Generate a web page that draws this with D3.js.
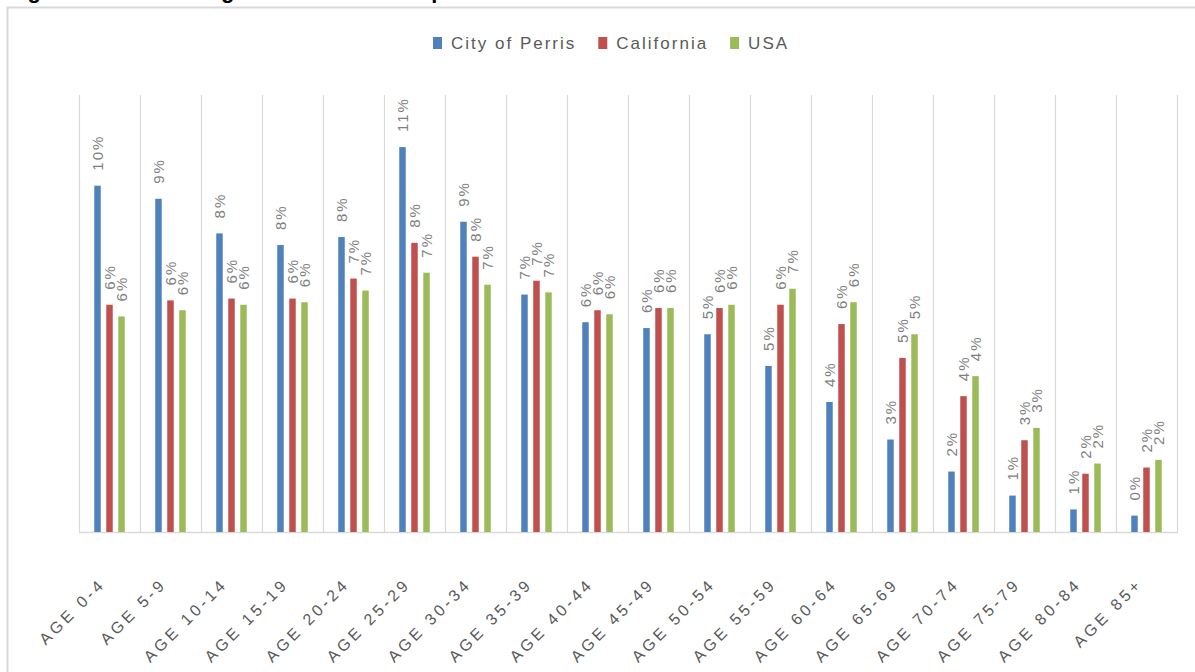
<!DOCTYPE html>
<html>
<head>
<meta charset="utf-8">
<script src="https://cdn.jsdelivr.net/npm/d3@7"></script>
<style>
  body { margin: 0; background: #fff; }
  svg { display: block; }
</style>
</head>
<body>
<script>
// chart data (percent of population)
var categories = ["AGE 0-4", "AGE 5-9", "AGE 10-14", "AGE 15-19", "AGE 20-24", "AGE 25-29",
  "AGE 30-34", "AGE 35-39", "AGE 40-44", "AGE 45-49", "AGE 50-54", "AGE 55-59",
  "AGE 60-64", "AGE 65-69", "AGE 70-74", "AGE 75-79", "AGE 80-84", "AGE 85+"];
var seriesNames = ["City of Perris", "California", "USA"];
var perris = [9.51, 9.15, 8.20, 7.88, 8.10, 10.57, 8.52, 6.52, 5.76, 5.60, 5.43, 4.56, 3.57, 2.54, 1.66, 1.00, 0.62, 0.45];
var california = [6.24, 6.36, 6.41, 6.41, 6.96, 7.94, 7.56, 6.90, 6.09, 6.15, 6.15, 6.24, 5.71, 4.78, 3.73, 2.52, 1.60, 1.77];
var usa = [5.92, 6.09, 6.24, 6.31, 6.63, 7.12, 6.79, 6.58, 5.98, 6.15, 6.24, 6.68, 6.31, 5.43, 4.28, 2.86, 1.88, 1.98];
var colors = ["#4F81BD", "#C0504D", "#9BBB59"];
var title = "Figure 5: Resident Age Distribution Comparison";

var W = 1195, H = 672;
var plotLeft = 79, plotRight = 1177, plotTop = 95, plotBottom = 532;

var svg = d3.select("body").append("svg")
  .attr("width", W)
  .attr("height", H);

// title, cut off at the top of the picture
svg.append("text")
  .attr("x", 8)
  .attr("y", -2.5)
  .attr("font-family", "Liberation Sans, Arial, sans-serif")
  .attr("font-weight", "bold")
  .attr("font-size", "22px")
  .attr("fill", "#000")
  .text(title);

// chart frame
svg.append("rect")
  .attr("x", 7.5)
  .attr("y", 7.5)
  .attr("width", 1400)
  .attr("height", 900)
  .attr("fill", "none")
  .attr("stroke", "#d9d9d9")
  .attr("stroke-width", 2);

var table = categories.map(function(c, i) {
  return { cat: c, vals: [perris[i], california[i], usa[i]] };
});

var x0 = d3.scaleBand().domain(categories).range([plotLeft, plotRight]).padding(0);
var x1 = d3.scaleBand().domain(seriesNames).range([-15.25, 15.25]).paddingInner(0.46).paddingOuter(0);
var y = d3.scaleLinear().domain([0, 12]).range([plotBottom, plotTop]);

// vertical separators
var edges = categories.map(function(c) { return x0(c); }).concat([plotRight]);
svg.append("g").selectAll("line")
  .data(edges)
  .enter()
  .append("line")
  .attr("x1", function(d) { return d + 0.5; })
  .attr("x2", function(d) { return d + 0.5; })
  .attr("y1", plotTop)
  .attr("y2", plotBottom)
  .attr("stroke", "#d9d9d9")
  .attr("stroke-width", 1.2);

// bottom axis line
svg.append("line")
  .attr("x1", plotLeft)
  .attr("x2", plotRight + 1)
  .attr("y1", plotBottom + 0.5)
  .attr("y2", plotBottom + 0.5)
  .attr("stroke", "#d9d9d9")
  .attr("stroke-width", 1.5);

var pct = d3.format(".0%");

var groups = svg.append("g").selectAll("g")
  .data(table)
  .enter()
  .append("g")
  .attr("transform", function(d) { return "translate(" + (x0(d.cat) + x0.bandwidth() / 2) + ",0)"; });

var items = groups.selectAll("g")
  .data(function(d) {
    return d.vals.map(function(v, k) { return { name: seriesNames[k], v: v, k: k }; });
  })
  .enter()
  .append("g");

items.append("rect")
  .attr("x", function(d) { return x1(d.name); })
  .attr("y", function(d) { return y(d.v); })
  .attr("width", x1.bandwidth())
  .attr("height", function(d) { return plotBottom - y(d.v); })
  .attr("fill", function(d) { return colors[d.k]; });

items.append("text")
  .attr("transform", function(d) {
    return "translate(" + (x1(d.name) + x1.bandwidth() / 2) + "," + (y(d.v) - 15) + ") rotate(-90)";
  })
  .attr("text-anchor", "start")
  .attr("dominant-baseline", "central")
  .attr("font-family", "Liberation Sans, Arial, sans-serif")
  .attr("font-size", "15px")
  .attr("letter-spacing", "2px")
  .attr("fill", "#7f7f7f")
  .text(function(d) { return pct(d.v / 100); });

// category labels
var xAxis = svg.append("g")
  .attr("transform", "translate(0," + plotBottom + ")")
  .call(d3.axisBottom(x0).tickSize(0));
xAxis.select(".domain").remove();
xAxis.selectAll("text")
  .attr("x", 0)
  .attr("y", 0)
  .attr("dy", 0)
  .attr("transform", "translate(-3,53) rotate(-45)")
  .attr("text-anchor", "end")
  .attr("font-family", "Liberation Sans, Arial, sans-serif")
  .attr("font-size", "16px")
  .attr("letter-spacing", "3.5px")
  .attr("fill", "#595959");

// legend
var legend = svg.append("g");
var lx = 433;
seriesNames.forEach(function(name, k) {
  legend.append("rect")
    .attr("x", lx)
    .attr("y", 37)
    .attr("width", 9)
    .attr("height", 12)
    .attr("fill", colors[k]);
  var t = legend.append("text")
    .attr("x", lx + 18)
    .attr("y", 43)
    .attr("dominant-baseline", "central")
    .attr("font-family", "Liberation Sans, Arial, sans-serif")
    .attr("font-size", "17px")
    .attr("letter-spacing", "2px")
    .attr("fill", "#595959")
    .text(name);
  lx += 18 + t.node().getComputedTextLength() + 22;
});
</script>
</body>
</html>
